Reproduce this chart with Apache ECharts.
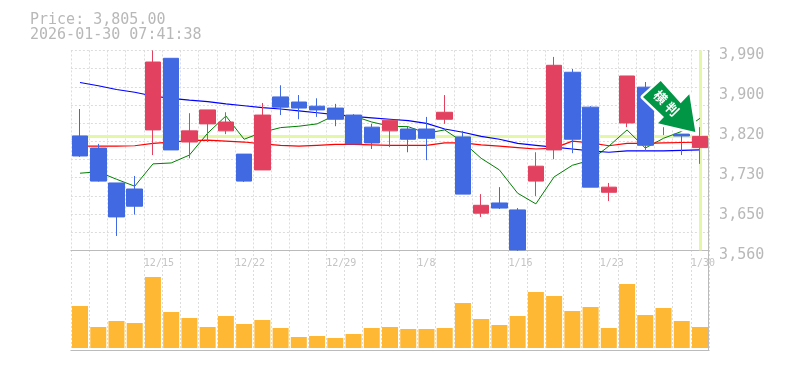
<!DOCTYPE html>
<html>
<head>
<meta charset="utf-8">
<style>
  html, body { margin: 0; padding: 0; background: #fff; }
  #chart { width: 785px; height: 370px; }
</style>
<script src="https://cdn.jsdelivr.net/npm/echarts@6/dist/echarts.min.js"></script>
</head>
<body>
<div id="chart"></div>
<script>
const dates = ['12/9','12/10','12/11','12/12','12/15','12/16','12/17','12/18','12/19','12/22','12/23','12/24','12/25','12/26','12/29','12/30','1/5','1/6','1/7','1/8','1/9','1/13','1/14','1/15','1/16','1/19','1/20','1/21','1/22','1/23','1/26','1/27','1/28','1/29','1/30'];
const shownDates = ['12/15','12/22','12/29','1/8','1/16','1/23','1/30'];

const opens  = [3806,3780,3705,3692,3819,3973,3793,3832,3817,3767,3733,3890,3879,3870,3866,3851,3825,3817,3821,3821,3842,3804,3640,3662,3647,3709,3776,3943,3868,3685,3834,3911,3862,3810,3781];
const closes = [3763,3709,3632,3655,3965,3776,3817,3862,3836,3709,3851,3868,3866,3862,3842,3789,3791,3840,3799,3801,3857,3681,3657,3651,3561,3741,3958,3799,3696,3696,3935,3786,3900,3806,3805];
const lows   = [3761,3708,3591,3637,3765,3776,3758,3793,3810,3707,3733,3851,3842,3847,3827,3789,3778,3782,3771,3754,3832,3681,3632,3649,3559,3677,3756,3769,3696,3666,3825,3774,3808,3765,3746];
const highs  = [3864,3789,3705,3720,3990,3973,3855,3862,3857,3767,3877,3915,3894,3887,3875,3853,3832,3840,3827,3847,3894,3817,3681,3696,3651,3771,3976,3950,3870,3705,3935,3922,3905,3810,3825];

const maShort = [3726,3729,3713,3698,3746,3748,3765,3812,3849,3799,3814,3824,3827,3832,3851,3849,3836,3827,3826,3812,3819,3793,3758,3733,3683,3660,3718,3743,3754,3784,3819,3780,3801,3816,3844];
const maMid   = [3784,3784,3784,3785,3790,3793,3796,3797,3795,3793,3789,3786,3784,3786,3788,3788,3787,3786,3786,3786,3791,3791,3787,3784,3781,3778,3780,3795,3791,3785,3790,3790,3791,3792,3793];
const maLong  = [3921,3914,3906,3900,3892,3887,3883,3880,3875,3871,3867,3864,3860,3856,3852,3848,3845,3842,3839,3833,3821,3814,3805,3799,3790,3786,3782,3778,3774,3771,3774,3774,3774,3775,3776];

const volumes = [42,21,27,25,71,36,30,21,32,24,28,20,11,12,10,14,20,21,19,19,20,45,29,23,32,56,52,37,41,20,64,33,40,27,21];

const priceTicks = [3560,3646,3732,3818,3904,3990];
const lastPrice = 3805;

const chart = echarts.init(document.getElementById('chart'));

const gridLine = { show: true, lineStyle: { color: '#dcdcdc', type: [2, 2], width: 1 } };
const frameLine = { show: true, onZero: false, lineStyle: { color: '#bbbbbb', width: 1 } };
const monoFont = '"DejaVu Sans Mono", monospace';
const plotLeft = 70.9;
const plotWidth = 638.2;

const arrowPoints = [[660.7, 81], [643, 97], [664, 117], [658, 123.3], [695.3, 132], [689.3, 94.3], [680.7, 103.3]];

const option = {
  animation: false,
  backgroundColor: '#ffffff',
  title: {
    text: 'Price: 3,805.00\n2026-01-30 07:41:38',
    left: 30,
    top: 13,
    padding: 0,
    textStyle: { color: '#b8b8b8', fontFamily: monoFont, fontSize: 15, fontWeight: 'normal', lineHeight: 15 }
  },
  grid: [
    { left: plotLeft, top: 50.4, width: plotWidth, height: 200 },
    { left: plotLeft, top: 250, width: plotWidth, height: 100 },
    // price labels sit below their ticks, so they get their own shifted grid
    { left: plotLeft, top: 55, width: plotWidth, height: 200 }
  ],
  xAxis: [
    {
      type: 'category', gridIndex: 0, data: dates, boundaryGap: true,
      axisLine: frameLine, axisTick: { show: false }, axisLabel: { show: false },
      splitLine: { ...gridLine, interval: 0 }
    },
    {
      type: 'category', gridIndex: 1, data: dates, boundaryGap: true,
      axisLine: frameLine, axisTick: { show: false }, axisLabel: { show: false },
      splitLine: { ...gridLine, interval: 0 }
    },
    {
      // date labels start at the left edge of their candle, so this axis ticks on the band edges
      type: 'category', gridIndex: 1, position: 'top', data: [...dates, ''], boundaryGap: false,
      axisLine: { show: false }, axisTick: { show: false }, splitLine: { show: false },
      axisLabel: {
        inside: true,
        margin: 8,
        align: 'left',
        color: '#c4c4c4',
        fontFamily: monoFont,
        fontSize: 10,
        interval: (index, value) => shownDates.includes(value)
      }
    },
    { type: 'category', gridIndex: 2, data: dates, show: false }
  ],
  yAxis: [
    {
      type: 'value', gridIndex: 0, position: 'right', offset: -1, min: 3560, max: 3990,
      axisLine: frameLine, axisTick: { show: false }, splitLine: { show: false }, axisLabel: { show: false }
    },
    {
      // only draws the horizontal dashed lines, 11 rows over the price area
      type: 'value', gridIndex: 0, position: 'left', min: 0, max: 11, interval: 1,
      axisLine: { show: false }, axisTick: { show: false }, axisLabel: { show: false },
      splitLine: gridLine
    },
    {
      type: 'value', gridIndex: 1, position: 'right', offset: -1, min: -2, max: 98,
      axisLine: frameLine, axisTick: { show: false }, axisLabel: { show: false },
      splitLine: { show: false }
    },
    {
      type: 'value', gridIndex: 2, position: 'right', min: 3560, max: 3990,
      axisLine: { show: false }, axisTick: { show: false }, splitLine: { show: false },
      axisLabel: {
        customValues: priceTicks,
        margin: 10,
        color: '#b8b8b8',
        fontFamily: monoFont,
        fontSize: 15,
        formatter: (v) => (Math.round(v / 10) * 10).toLocaleString('en-US')
      }
    }
  ],
  series: [
    {
      name: 'band', type: 'line', xAxisIndex: 0, yAxisIndex: 0, data: [], z: 1,
      markLine: {
        z: 1, silent: true, symbol: 'none', animation: false,
        label: { show: false },
        lineStyle: { color: '#e4f6a8', width: 3, type: 'solid' },
        data: [{ yAxis: lastPrice }, { xAxis: dates[dates.length - 1] }]
      }
    },
    { name: 'short', type: 'line', xAxisIndex: 0, yAxisIndex: 0, data: maShort, z: 2, symbol: 'none', lineStyle: { color: '#008000', width: 1 } },
    { name: 'mid', type: 'line', xAxisIndex: 0, yAxisIndex: 0, data: maMid, z: 2, symbol: 'none', lineStyle: { color: '#ff0000', width: 1.2 } },
    { name: 'long', type: 'line', xAxisIndex: 0, yAxisIndex: 0, data: maLong, z: 2, symbol: 'none', lineStyle: { color: '#0000ff', width: 1.2 } },
    {
      name: 'price', type: 'candlestick', xAxisIndex: 0, yAxisIndex: 0, z: 3,
      barWidth: 16,
      data: dates.map((_, i) => [opens[i], closes[i], lows[i], highs[i]]),
      itemStyle: { color: '#e2425f', color0: '#4169e1', borderColor: '#e2425f', borderColor0: '#4169e1', borderWidth: 1 }
    },
    {
      name: 'volume', type: 'bar', xAxisIndex: 1, yAxisIndex: 2, data: volumes,
      barWidth: 16, itemStyle: { color: '#ffb833' }
    }
  ],
  graphic: [
    {
      type: 'polygon', z: 100,
      shape: { points: arrowPoints },
      style: { fill: '#ffffff', stroke: '#ffffff', lineWidth: 5, lineJoin: 'round' }
    },
    {
      type: 'polygon', z: 101,
      shape: { points: arrowPoints },
      style: { fill: '#009645' }
    },
    {
      type: 'text', z: 102, x: 660.5, y: 97, rotation: -Math.PI / 4,
      style: { text: '横', fill: '#ffffff', fontSize: 13, fontWeight: 'bold', fontFamily: '"Noto Sans CJK JP"', align: 'center', verticalAlign: 'middle' }
    },
    {
      type: 'text', z: 102, x: 672, y: 109, rotation: -Math.PI / 4,
      style: { text: '判', fill: '#ffffff', fontSize: 13, fontWeight: 'bold', fontFamily: '"Noto Sans CJK JP"', align: 'center', verticalAlign: 'middle' }
    }
  ]
};

chart.setOption(option);
</script>
</body>
</html>
